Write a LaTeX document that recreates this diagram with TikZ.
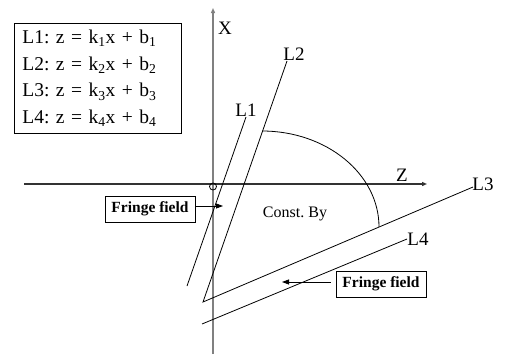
\documentclass[tikz,border=0pt]{standalone}
\usepackage{fontspec}
\setmainfont{Liberation Serif}
\usepackage{tikz}
\usetikzlibrary{arrows.meta,positioning}
\definecolor{axisgray}{RGB}{128,128,128}
\definecolor{axisdark}{RGB}{51,51,51}
\frenchspacing

\begin{document}
\begin{tikzpicture}[x=1pt, y=-1pt,
    thin line/.style={line width=0.8pt},
    axisline/.style={line width=1.6pt, -{Triangle[length=5pt,width=4pt]}},
    tag/.style={font=\fontsize{19}{23}\selectfont, inner sep=0pt},
    fringebox/.style={draw, line width=0.8pt, minimum width=90pt, minimum height=26pt, inner sep=0pt, font=\fontsize{15.5}{18}\selectfont\bfseries},
    pointer/.style={line width=0.8pt, -{Triangle[length=7pt,width=5pt]}}
]
\useasboundingbox (0,0) rectangle (505,354);
% axes
\coordinate (xbot) at (213,354);
\coordinate (xtop) at (213,8);
\coordinate (zleft) at (24,184);
\coordinate (zright) at (427,184);
\draw[axisline, axisgray] (xbot) -- (xtop);
\draw[axisline, axisdark] (zleft) -- (zright);
\node[tag] (xlabel) at (225,28) {X};
\node[tag] (zlabel) at (402,175) {Z};
\draw[thin line] (213,186.5) circle (3.5pt);
% lines
\coordinate (l1top) at (246,117);
\coordinate (l1bot) at (187,286);
\coordinate (l2top) at (287,61);
\coordinate (corner) at (203,302);
\coordinate (l3end) at (473,187);
\coordinate (l4beg) at (202,324);
\coordinate (l4end) at (407,239);
\draw[thin line] (l1top) -- (l1bot);
\draw[thin line] (l2top) -- (corner) -- (l3end);
\draw[thin line] (l4beg) -- (l4end);
\node[tag] (l1label) at (246,110) {L1};
\node[tag] (l2label) at (294,54) {L2};
\node[tag] (l3label) at (483,184) {L3};
\node[tag] (l4label) at (418,239) {L4};
% region of constant field
\draw[thin line] (262,131) arc[start angle=90, end angle=0, x radius=117pt, y radius=96pt];
\node[font=\fontsize{16}{19}\selectfont, inner sep=0pt] (constby) at (295,214) {Const. By};
% fringe fields
\node[fringebox] (fringeleft) at (150,209) {Fringe field};
\coordinate (lefttip) at (223,206);
\draw[pointer] (fringeleft.east |- lefttip) -- (lefttip);
\node[fringebox] (fringeright) at (381,284) {Fringe field};
\coordinate (righttip) at (282,282);
\draw[pointer, shorten <=5pt] (fringeright.west |- righttip) -- (righttip);
% legend
\node[draw, thin line, anchor=north west, minimum width=167pt, minimum height=110pt,
      text width=151pt, inner xsep=8pt, align=left,
      font=\fontsize{19.5}{26.7}\selectfont] (legend) at (14,23) {
    L1: z = k\textsubscript{1}x + b\textsubscript{1}\\
    L2: z = k\textsubscript{2}x + b\textsubscript{2}\\
    L3: z = k\textsubscript{3}x + b\textsubscript{3}\\
    L4: z = k\textsubscript{4}x + b\textsubscript{4}};
\end{tikzpicture}
\end{document}
